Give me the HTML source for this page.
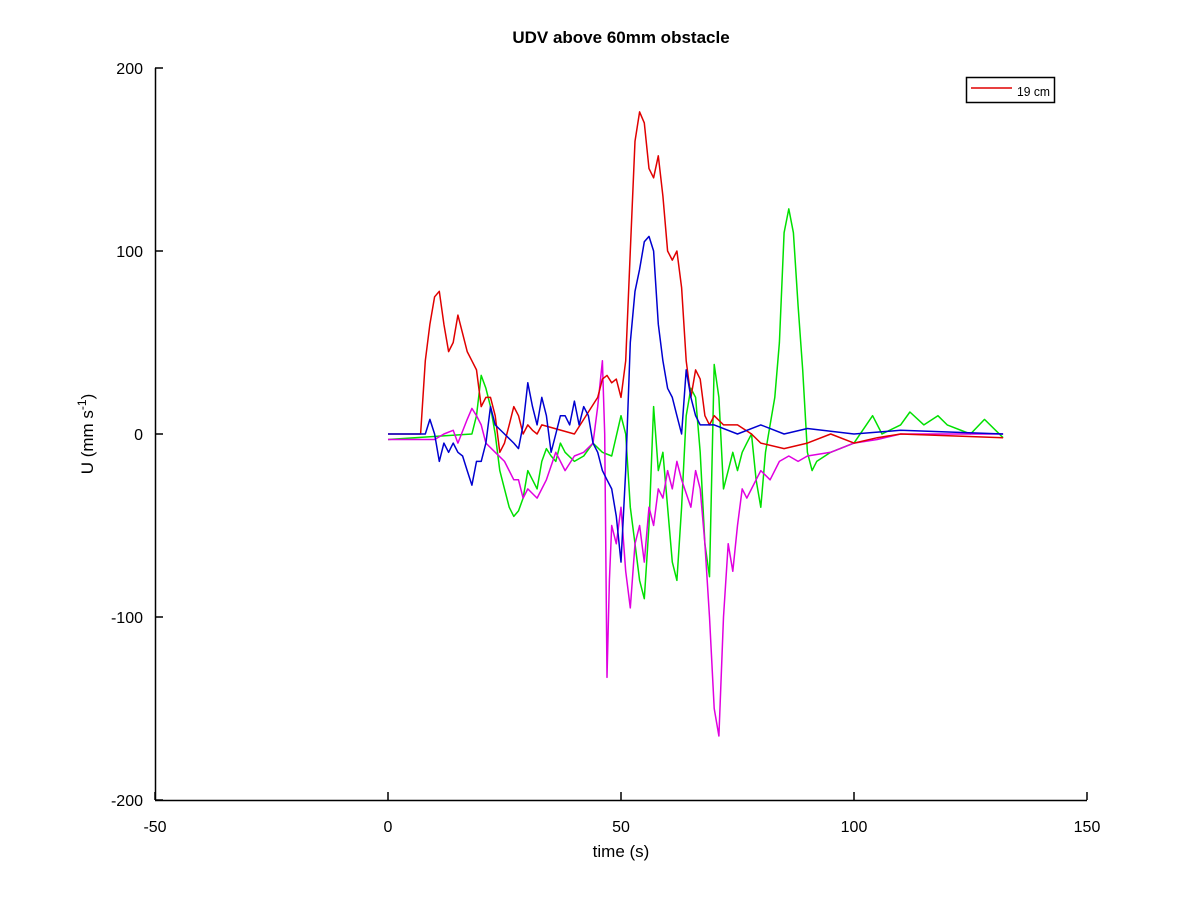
<!DOCTYPE html>
<html><head><meta charset="utf-8"><style>
body{margin:0;background:#fff;}
svg{font-family:"Liberation Sans",sans-serif;}
</style></head><body>
<svg id="chart" width="1200" height="900" viewBox="0 0 1200 900">
<rect width="1200" height="900" fill="#fff"/>
<text x="621" y="43" text-anchor="middle" font-size="17" font-weight="bold">UDV above 60mm obstacle</text>
<g id="axes"></g>
<g id="series"></g>
<text x="621" y="857" text-anchor="middle" font-size="17">time (s)</text>
<text transform="translate(93,434) rotate(-90)" text-anchor="middle" font-size="17">U (mm s<tspan dy="-7" font-size="12">-1</tspan><tspan dy="7">)</tspan></text>
<g>
<rect x="966.5" y="77.5" width="88" height="25" fill="#fff" stroke="#000" stroke-width="1.5"/>
<line x1="971" y1="88" x2="1012" y2="88" stroke="#e00000" stroke-width="1.5"/>
<text x="1017" y="96" font-size="13" textLength="33" lengthAdjust="spacingAndGlyphs">19 cm</text>
</g>
</svg>
<script>
const xTicks=[-50,0,50,100,150];
const yTicks=[200,100,0,-100,-200];
const redT=[0,7,8,9,10,11,12,13,14,15,16,17,18,19,20,21,22,23,24,25,26,27,28,29,30,31,32,33,40,45,46,47,48,49,50,51,52,53,54,55,56,57,58,59,60,61,62,63,64,65,66,67,68,69,70,72,75,78,80,85,90,95,100,105,110,132];
const redV=[0,0,40,60,75,78,60,45,50,65,55,45,40,35,15,20,20,10,-10,-5,5,15,10,0,5,2,0,5,0,20,30,32,28,30,20,40,100,160,176,170,145,140,152,130,100,95,100,80,40,20,35,30,10,5,10,5,5,0,-5,-8,-5,0,-5,-2,0,-2];
const blueT=[0,8,9,10,11,12,13,14,15,16,17,18,19,20,21,22,23,25,27,28,29,30,31,32,33,34,35,36,37,38,39,40,41,42,43,44,45,46,47,48,49,50,51,52,53,54,55,56,57,58,59,60,61,62,63,64,65,66,67,70,75,80,85,90,100,110,132];
const blueV=[0,0,8,0,-15,-5,-10,-5,-10,-12,-20,-28,-15,-15,-5,15,5,0,-5,-8,5,28,15,5,20,10,-10,0,10,10,5,18,5,15,10,-5,-10,-20,-25,-30,-45,-70,-20,50,78,90,105,108,100,60,40,25,20,10,0,35,20,10,5,5,0,5,0,3,0,2,0];
const greenT=[0,18,19,20,21,22,23,24,25,26,27,28,29,30,31,32,33,34,35,36,37,38,40,42,44,46,48,50,51,52,53,54,55,56,57,58,59,60,61,62,63,64,65,66,67,68,69,70,71,72,73,74,75,76,77,78,79,80,81,82,83,84,85,86,87,88,89,90,91,92,95,100,104,106,110,112,115,118,120,125,128,132];
const greenV=[-3,0,10,32,25,15,0,-20,-30,-40,-45,-42,-35,-20,-25,-30,-15,-8,-12,-15,-5,-10,-15,-12,-5,-10,-12,10,0,-40,-60,-80,-90,-50,15,-20,-10,-40,-70,-80,-40,10,25,20,-10,-60,-78,38,20,-30,-20,-10,-20,-10,-5,0,-25,-40,-10,5,20,50,110,123,110,70,35,-10,-20,-15,-10,-5,10,0,5,12,5,10,5,0,8,-2];
const magT=[0,10,12,14,15,17,18,19,20,21,23,25,27,28,29,30,32,34,36,38,40,42,44,45,46,46.5,47,47.5,48,49,50,51,52,53,54,55,56,57,58,59,60,61,62,63,65,66,67,68,69,70,71,72,73,74,75,76,77,78,79,80,82,84,86,88,90,95,100,105,110,132];
const magV=[-3,-3,0,2,-5,8,14,10,5,-5,-10,-15,-25,-25,-35,-30,-35,-25,-10,-20,-12,-10,-5,15,40,0,-133,-80,-50,-60,-40,-75,-95,-60,-50,-70,-40,-50,-30,-35,-20,-30,-15,-25,-40,-20,-30,-60,-100,-150,-165,-100,-60,-75,-50,-30,-35,-30,-25,-20,-25,-15,-12,-15,-12,-10,-5,-3,0,0];
const X=v=>388+(v)*4.66;
const Y=v=>434-v*1.83;
const NS="http://www.w3.org/2000/svg";
const ax=document.getElementById('axes');
function mk(t,a,p){const e=document.createElementNS(NS,t);for(const k in a)e.setAttribute(k,a[k]);p.appendChild(e);return e;}
const xl=mk('line',{x1:X(-50),y1:800.5,x2:X(150),y2:800.5,stroke:'#000','stroke-width':1.5},ax);


const yl=mk('line',{x1:155.5,y1:Y(200),x2:155.5,y2:Y(-200),stroke:'#000','stroke-width':1.5},ax);


xTicks.forEach(t=>{mk('line',{x1:X(t),y1:800,x2:X(t),y2:792,stroke:'#000','stroke-width':1.5},ax);
const tx=mk('text',{x:X(t),y:832,'text-anchor':'middle','font-size':16},ax);tx.textContent=t;

});
yTicks.forEach(t=>{mk('line',{x1:155,y1:Y(t),x2:163,y2:Y(t),stroke:'#000','stroke-width':1.5},ax);
const tx=mk('text',{x:143,y:Y(t)+6,'text-anchor':'end','font-size':16},ax);tx.textContent=t;

});
const sg=document.getElementById('series');
function line(T,V,c,name){const d=T.map((t,i)=>(i?'L':'M')+X(t).toFixed(1)+','+Y(V[i]).toFixed(1)).join('');
const p=mk('path',{d:d,fill:'none',stroke:c,'stroke-width':1.5,'stroke-linejoin':'round'},sg);

}
line(greenT,greenV,'#00e000','series-green');
line(magT,magV,'#e000e0','series-magenta');
line(redT,redV,'#e00000','series-19cm-red');
line(blueT,blueV,'#0000d0','series-blue');
</script>
</body></html>
